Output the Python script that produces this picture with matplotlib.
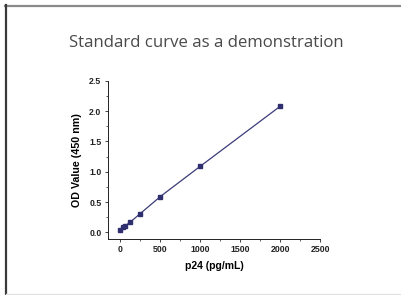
"""Standard curve (p24 ELISA) recreated as a small slide-style figure."""

import matplotlib.pyplot as plt
from matplotlib.lines import Line2D
from matplotlib.ticker import MultipleLocator

# Standard concentrations (pg/mL) and measured OD at 450 nm
conc = [0, 31.25, 62.5, 125, 250, 500, 1000, 2000]
od = [0.04, 0.08, 0.11, 0.17, 0.31, 0.59, 1.09, 2.08]

x_ticks = [0, 500, 1000, 1500, 2000, 2500]
y_ticks = [0.0, 0.5, 1.0, 1.5, 2.0, 2.5]

NAVY = "#2f2f6f"
LINE = "#3b3b7a"

fig = plt.figure(figsize=(4.01, 2.95), dpi=100)
fig.patch.set_facecolor("white")

# slide frame edges
fig.add_artist(Line2D([5 / 401, 1], [1 - 6 / 295] * 2, color="#8a8a8a", lw=1.6))
fig.add_artist(Line2D([6 / 401] * 2, [1 - 5 / 295, 1 / 295], color="#3a3a3a", lw=1.6))
fig.add_artist(Line2D([6 / 401, 1], [1.5 / 295] * 2, color="#e2e2e2", lw=1.0))

fig.text(206 / 401, 1 - 43 / 295, "Standard curve as a demonstration",
         ha="center", va="center", fontsize=12.1, color="#4a4a4a",
         family="Open Sans", fontweight="medium")

ax = fig.add_axes([107.7 / 401, 56 / 295, 212.6 / 401, 158.3 / 295])
ax.plot(conc, od, color=LINE, lw=0.9, marker="s", markersize=3.4,
        markerfacecolor=NAVY, markeredgecolor=NAVY)

ax.set_xlim(-158, 2500)
ax.set_ylim(-0.11, 2.5)
ax.set_xticks(x_ticks)
ax.set_yticks(y_ticks)
ax.set_yticklabels([f"{v:.1f}" for v in y_ticks])
ax.xaxis.set_minor_locator(MultipleLocator(250))
ax.yaxis.set_minor_locator(MultipleLocator(0.25))

for s in ("top", "right"):
    ax.spines[s].set_visible(False)
for s in ("left", "bottom"):
    ax.spines[s].set_linewidth(0.7)
    ax.spines[s].set_color("#222222")

ax.tick_params(which="major", direction="out", length=2.5, width=0.6,
               labelsize=6.3, pad=2, colors="#222222")
ax.tick_params(which="minor", direction="out", length=1.5, width=0.5,
               colors="#222222")
for lab in ax.get_xticklabels() + ax.get_yticklabels():
    lab.set_fontweight("bold")
    lab.set_family("Liberation Sans")

ax.set_xlabel("p24 (pg/mL)", fontsize=7.5, fontweight="bold",
              family="Liberation Sans", labelpad=5)
ax.set_ylabel("OD Value (450 nm)", fontsize=7.7, fontweight="bold",
              family="Liberation Sans", labelpad=5)

fig.savefig("out.png", dpi=100, facecolor="white")
